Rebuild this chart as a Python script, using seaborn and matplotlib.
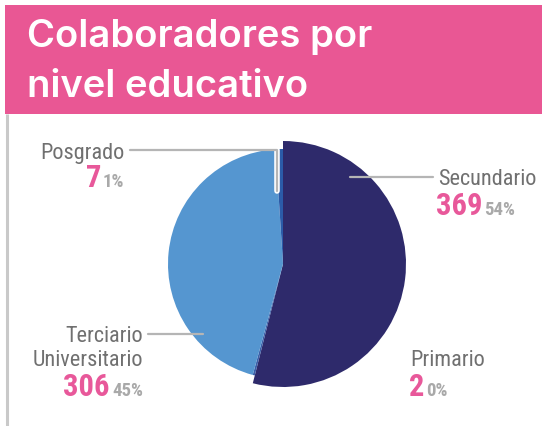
import matplotlib
matplotlib.use('Agg')
import matplotlib.pyplot as plt
from matplotlib import font_manager
from matplotlib.patches import Rectangle
import seaborn as sns

# data
categories = ['Secundario', 'Primario', 'Terciario\nUniversitario', 'Posgrado']
counts = [369, 2, 306, 7]
pct_labels = ['54%', '0%', '45%', '1%']

W, H = 542, 427

sns.set_theme(style='white')
colors = sns.color_palette(['#2e2a6b', '#3b5fa8', '#5596d0', '#2b5ba8'])
pink = '#e8589a'
band = '#e95794'
grey_txt = '#707070'
grey_pct = '#a9a9a9'
line_c = '#b5b5b5'

names = {f.name for f in font_manager.fontManager.ttflist}
label_font = next((n for n in ['Roboto Condensed', 'Liberation Sans Narrow', 'DejaVu Sans Condensed']
                   if n in names), 'DejaVu Sans')
title_font = next((n for n in ['Inter', 'Lato', 'Open Sans', 'DejaVu Sans'] if n in names), 'DejaVu Sans')


def py(y):
    # pixel row (top origin) -> axes y
    return H - y


fig = plt.figure(figsize=(W / 100, H / 100), dpi=100)
ax = fig.add_axes([0, 0, 1, 1])

wedges, _ = ax.pie(counts, colors=colors, startangle=90, counterclock=False,
                   center=(283, py(265)), radius=115,
                   wedgeprops=dict(linewidth=0))
wedges[0].set_radius(123)

ax.set_xlim(0, W)
ax.set_ylim(0, H)
ax.set_aspect('equal')
ax.set_axis_off()

# header band
ax.add_patch(Rectangle((5, py(115)), W - 5, 109, color=band, lw=0, zorder=0))
ax.text(27, py(47), 'Colaboradores por', color='white', fontsize=27.5, fontweight='semibold',
        family=title_font, va='baseline', ha='left')
ax.text(27, py(97), 'nivel educativo', color='white', fontsize=27.5, fontweight='semibold',
        family=title_font, va='baseline', ha='left')

# left rule
ax.plot([7, 7], [py(115), py(427)], color='#c9c9c9', lw=2.2, solid_capstyle='butt')

# leader lines
ax.plot([277, 277], [py(151), py(192)], color='white', lw=4, zorder=4)
ax.plot([130, 277, 277], [py(151), py(151), py(192)], color=line_c, lw=1.6, zorder=5)
ax.plot([350, 433], [py(178), py(178)], color=line_c, lw=1.6, zorder=5)
ax.plot([148, 203], [py(335), py(335)], color=line_c, lw=1.6, zorder=5)

lab_kw = dict(family=label_font, color=grey_txt, fontsize=16, fontstretch='condensed')
num_kw = dict(family=label_font, color=pink, fontsize=22, fontweight='bold', fontstretch='condensed')
pct_kw = dict(family=label_font, color=grey_pct, fontsize=13.5, fontweight='bold', fontstretch='condensed')

# Posgrado (right aligned)
ax.text(124, py(159), categories[3], ha='right', va='baseline', **lab_kw)
ax.text(124, py(187), pct_labels[3], ha='right', va='baseline', **pct_kw)
ax.text(101, py(187), str(counts[3]), ha='right', va='baseline', **num_kw)

# Secundario (left aligned)
ax.text(438, py(185), categories[0], ha='left', va='baseline', **lab_kw)
ax.text(436, py(215), str(counts[0]), ha='left', va='baseline', **num_kw)
ax.text(484, py(215), pct_labels[0], ha='left', va='baseline', **pct_kw)

# Terciario Universitario (right aligned)
t1, t2 = categories[2].split('\n')
ax.text(143, py(342), t1, ha='right', va='baseline', **lab_kw)
ax.text(143, py(366), t2, ha='right', va='baseline', **lab_kw)
ax.text(143, py(396), pct_labels[2], ha='right', va='baseline', **pct_kw)
ax.text(109, py(396), str(counts[2]), ha='right', va='baseline', **num_kw)

# Primario (left aligned)
ax.text(410, py(366), categories[1], ha='left', va='baseline', **lab_kw)
ax.text(409, py(396), str(counts[1]), ha='left', va='baseline', **num_kw)
ax.text(426, py(396), pct_labels[1], ha='left', va='baseline', **pct_kw)

fig.savefig('out.png', dpi=100)
